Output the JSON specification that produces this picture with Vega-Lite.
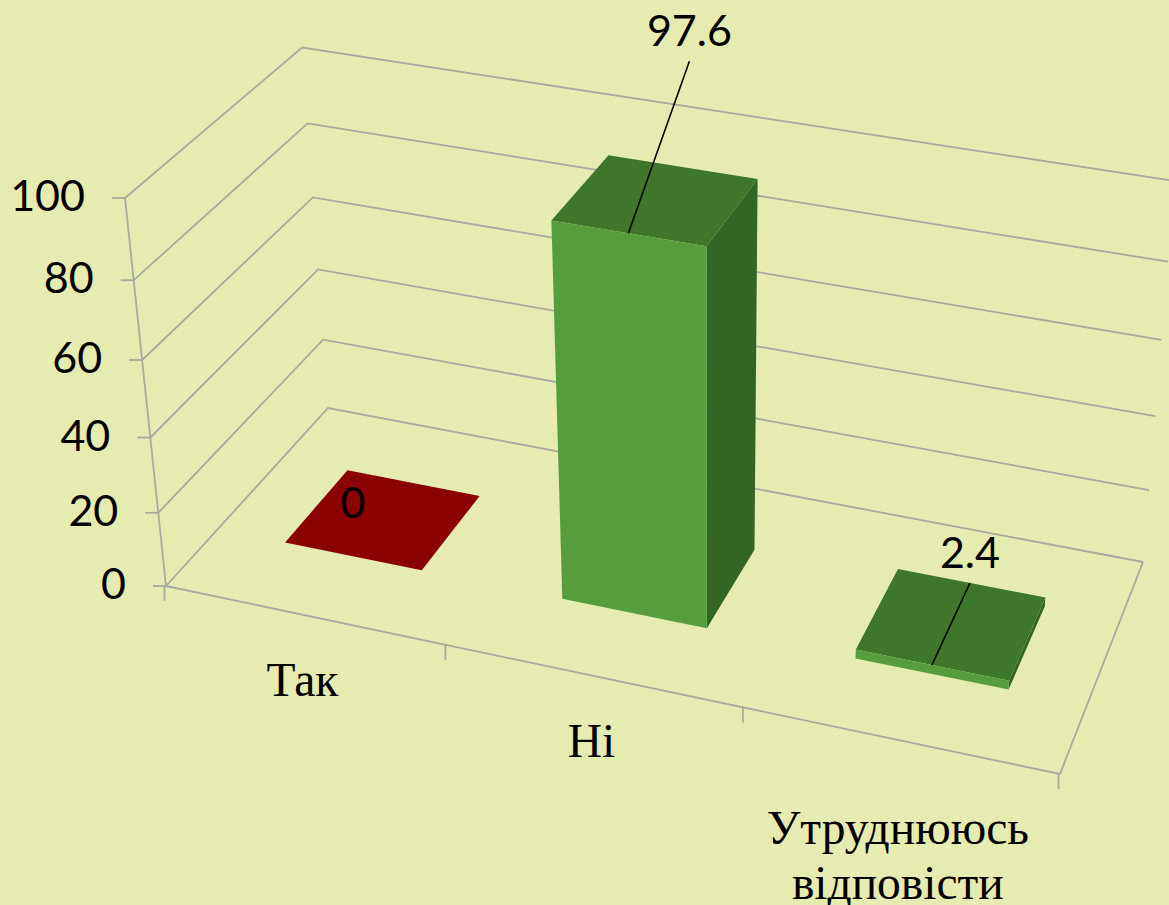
{
"$schema":"https://vega.github.io/schema/vega-lite/v6.json",
"width":1169,"height":905,"padding":0,"autosize":{"type":"none"},
"background":"#E6EBB0",
"view":{"stroke":null},
"resolve":{"scale":{"fill":"independent"}},
"datasets":{
"bars":[{"category":"Так","value":0,"index":0},{"category":"Ні","value":97.6,"index":1},{"category":"Утруднююсь відповісти","value":2.4,"index":2}],
"ticks":[{"tick":0},{"tick":20},{"tick":40},{"tick":60},{"tick":80},{"tick":100}],
"bounds":[{"b":0},{"b":1},{"b":2},{"b":3}],
"frame":[{"edge":"floor"},{"edge":"axis"}]
},
"encoding":{
"x":{"type":"quantitative","scale":{"domain":[0,1169],"range":[0,1169],"nice":false,"zero":false},"axis":null},
"y":{"type":"quantitative","scale":{"domain":[0,905],"range":[0,905],"nice":false,"zero":false},"axis":null}
},
"layer":[
{"data":{"name":"ticks"},
"transform":[
{"calculate":"[[0,0,datum.tick/100,0],[0,1,datum.tick/100,1],[1,1,datum.tick/100,2]]","as":"pts"},
{"flatten":["pts"],"as":["p"]},
{"calculate":"datum.p[0]","as":"u"},{"calculate":"datum.p[1]","as":"v"},{"calculate":"datum.p[2]","as":"t"},{"calculate":"datum.p[3]","as":"k"},
{"calculate":"1-0.08377*datum.u+0.10546*datum.v-0.07*datum.t","as":"den"},
{"calculate":"(805.2*datum.u+196.59*datum.v-49.75*datum.t+166)/datum.den","as":"px"},
{"calculate":"(123.16*datum.u-134.97*datum.v-401.86*datum.t+586)/datum.den","as":"py"}],
"mark":{"type":"line","stroke":"#A9AAA0","strokeWidth":1.8},
"encoding":{"x":{"field":"px"},"y":{"field":"py"},"detail":{"field":"tick"},"order":{"field":"k"}}},
{"data":{"name":"frame"},
"transform":[
{"calculate":"datum.edge=='floor'?[[0,0,0,0],[1,0,0,1],[1,1,0,2]]:[[0,0,0,0],[0,0,1,1]]","as":"pts"},
{"flatten":["pts"],"as":["p"]},
{"calculate":"datum.p[0]","as":"u"},{"calculate":"datum.p[1]","as":"v"},{"calculate":"datum.p[2]","as":"t"},{"calculate":"datum.p[3]","as":"k"},
{"calculate":"1-0.08377*datum.u+0.10546*datum.v-0.07*datum.t","as":"den"},
{"calculate":"(805.2*datum.u+196.59*datum.v-49.75*datum.t+166)/datum.den","as":"px"},
{"calculate":"(123.16*datum.u-134.97*datum.v-401.86*datum.t+586)/datum.den","as":"py"}],
"mark":{"type":"line","stroke":"#A9AAA0","strokeWidth":1.8},
"encoding":{"x":{"field":"px"},"y":{"field":"py"},"detail":{"field":"edge"},"order":{"field":"k"}}},
{"data":{"name":"ticks"},
"transform":[
{"calculate":"1-0.07*datum.tick/100","as":"den"},
{"calculate":"(-49.75*datum.tick/100+166)/datum.den","as":"px"},
{"calculate":"(-401.86*datum.tick/100+586)/datum.den","as":"py"},
{"calculate":"datum.px-13","as":"px2"}],
"mark":{"type":"rule","stroke":"#A9AAA0","strokeWidth":1.8},
"encoding":{"x":{"field":"px"},"x2":{"field":"px2"},"y":{"field":"py"}}},
{"data":{"name":"ticks"},
"transform":[
{"calculate":"1-0.07*datum.tick/100","as":"den"},
{"calculate":"(-49.75*datum.tick/100+166)/datum.den-40","as":"px"},
{"calculate":"(-401.86*datum.tick/100+586)/datum.den","as":"py"}],
"mark":{"type":"text","font":"Lato","fontSize":43,"align":"right","baseline":"middle","fill":"#000000"},
"encoding":{"x":{"field":"px"},"y":{"field":"py"},"text":{"field":"tick"}}},
{"data":{"name":"bounds"},
"transform":[
{"calculate":"datum.b/3","as":"u"},
{"calculate":"1-0.08377*datum.u","as":"den"},
{"calculate":"(805.2*datum.u+166)/datum.den-1.5","as":"px"},
{"calculate":"(123.16*datum.u+586)/datum.den","as":"py"},
{"calculate":"datum.py+15","as":"py2"}],
"mark":{"type":"rule","stroke":"#A9AAA0","strokeWidth":1.8},
"encoding":{"x":{"field":"px"},"y":{"field":"py"},"y2":{"field":"py2"}}},
{"data":{"name":"bars"},
"transform":[
{"calculate":"[[1,0,0,0],[1,1,0,1],[1,1,1,2],[1,0,1,3]]","as":"pts"},
{"flatten":["pts"],"as":["p"]},
{"calculate":"(datum.index+0.25+0.5*datum.p[0])/3","as":"u"},{"calculate":"0.3+0.4*datum.p[1]","as":"v"},{"calculate":"datum.value/100*datum.p[2]","as":"t"},{"calculate":"datum.p[3]","as":"k"},
{"calculate":"1-0.08377*datum.u+0.10546*datum.v-0.07*datum.t","as":"den"},
{"calculate":"(805.2*datum.u+196.59*datum.v-49.75*datum.t+166)/datum.den","as":"px"},
{"calculate":"(123.16*datum.u-134.97*datum.v-401.86*datum.t+586)/datum.den","as":"py"}],
"mark":{"type":"line","strokeWidth":0,"stroke":"transparent"},
"encoding":{"x":{"field":"px"},"y":{"field":"py"},"order":{"field":"k"},"stroke":{"value":"transparent"},
"fill":{"field":"category","scale":{"domain":["Так","Ні","Утруднююсь відповісти"],"range":["#8B0000","#346623","#346623"]},"legend":null}}},
{"data":{"name":"bars"},
"transform":[
{"calculate":"[[0,0,1,0],[1,0,1,1],[1,1,1,2],[0,1,1,3]]","as":"pts"},
{"flatten":["pts"],"as":["p"]},
{"calculate":"(datum.index+0.25+0.5*datum.p[0])/3","as":"u"},{"calculate":"0.3+0.4*datum.p[1]","as":"v"},{"calculate":"datum.value/100*datum.p[2]","as":"t"},{"calculate":"datum.p[3]","as":"k"},
{"calculate":"1-0.08377*datum.u+0.10546*datum.v-0.07*datum.t","as":"den"},
{"calculate":"(805.2*datum.u+196.59*datum.v-49.75*datum.t+166)/datum.den","as":"px"},
{"calculate":"(123.16*datum.u-134.97*datum.v-401.86*datum.t+586)/datum.den","as":"py"}],
"mark":{"type":"line","strokeWidth":0,"stroke":"transparent"},
"encoding":{"x":{"field":"px"},"y":{"field":"py"},"order":{"field":"k"},"stroke":{"value":"transparent"},
"fill":{"field":"category","scale":{"domain":["Так","Ні","Утруднююсь відповісти"],"range":["#8B0000","#3F772A","#3F772A"]},"legend":null}}},
{"data":{"name":"bars"},
"transform":[
{"calculate":"[[0,0,0,0],[1,0,0,1],[1,0,1,2],[0,0,1,3]]","as":"pts"},
{"flatten":["pts"],"as":["p"]},
{"calculate":"(datum.index+0.25+0.5*datum.p[0])/3","as":"u"},{"calculate":"0.3+0.4*datum.p[1]","as":"v"},{"calculate":"datum.value/100*datum.p[2]","as":"t"},{"calculate":"datum.p[3]","as":"k"},
{"calculate":"1-0.08377*datum.u+0.10546*datum.v-0.07*datum.t","as":"den"},
{"calculate":"(805.2*datum.u+196.59*datum.v-49.75*datum.t+166)/datum.den","as":"px"},
{"calculate":"(123.16*datum.u-134.97*datum.v-401.86*datum.t+586)/datum.den","as":"py"}],
"mark":{"type":"line","strokeWidth":0,"stroke":"transparent"},
"encoding":{"x":{"field":"px"},"y":{"field":"py"},"order":{"field":"k"},"stroke":{"value":"transparent"},
"fill":{"field":"category","scale":{"domain":["Так","Ні","Утруднююсь відповісти"],"range":["#8B0000","#559E3B","#559E3B"]},"legend":null}}},
{"data":{"name":"bars"},
"transform":[
{"filter":"datum.value>0"},
{"calculate":"(datum.index+0.5)/3","as":"u"},{"calculate":"datum.value/100","as":"t"},
{"calculate":"1-0.08377*datum.u+0.03164-0.07*datum.t","as":"den"},
{"calculate":"(805.2*datum.u+58.98-49.75*datum.t+166)/datum.den","as":"px"},
{"calculate":"(123.16*datum.u-40.49-401.86*datum.t+586)/datum.den","as":"py"},
{"calculate":"datum.index==1?datum.px+61:datum.px+38","as":"px2"},
{"calculate":"datum.index==1?datum.py-172:datum.py-82","as":"py2"}],
"mark":{"type":"rule","stroke":"#000000","strokeWidth":1.6},
"encoding":{"x":{"field":"px"},"y":{"field":"py"},"x2":{"field":"px2"},"y2":{"field":"py2"}}},
{"data":{"name":"bars"},
"transform":[
{"calculate":"(datum.index+0.5)/3","as":"u"},{"calculate":"datum.value/100","as":"t"},
{"calculate":"1-0.08377*datum.u+0.03164-0.07*datum.t","as":"den"},
{"calculate":"(805.2*datum.u+58.98-49.75*datum.t+166)/datum.den+(datum.index==1?61:datum.index==2?38:0)","as":"px"},
{"calculate":"(123.16*datum.u-40.49-401.86*datum.t+586)/datum.den-(datum.index==1?200:datum.index==2?110:51)","as":"py"}],
"mark":{"type":"text","font":"Lato","fontSize":43,"align":"center","baseline":"middle","fill":"#000000"},
"encoding":{"x":{"field":"px"},"y":{"field":"py"},"text":{"field":"value"}}},
{"data":{"name":"bars"},
"transform":[
{"calculate":"(datum.index+0.5)/3","as":"u"},
{"calculate":"1-0.08377*datum.u","as":"den"},
{"calculate":"(805.2*datum.u+166)/datum.den-2","as":"px"},
{"calculate":"(123.16*datum.u+586)/datum.den+(datum.index==2?104:81)","as":"py"},
{"calculate":"replace(datum.category,' ','\\n')","as":"label"}],
"mark":{"type":"text","font":"Liberation Serif","fontSize":47.5,"align":"center","baseline":"alphabetic","lineBreak":"\n","lineHeight":55,"fill":"#000000"},
"encoding":{"x":{"field":"px"},"y":{"field":"py"},"text":{"field":"label"}}}
]
}
